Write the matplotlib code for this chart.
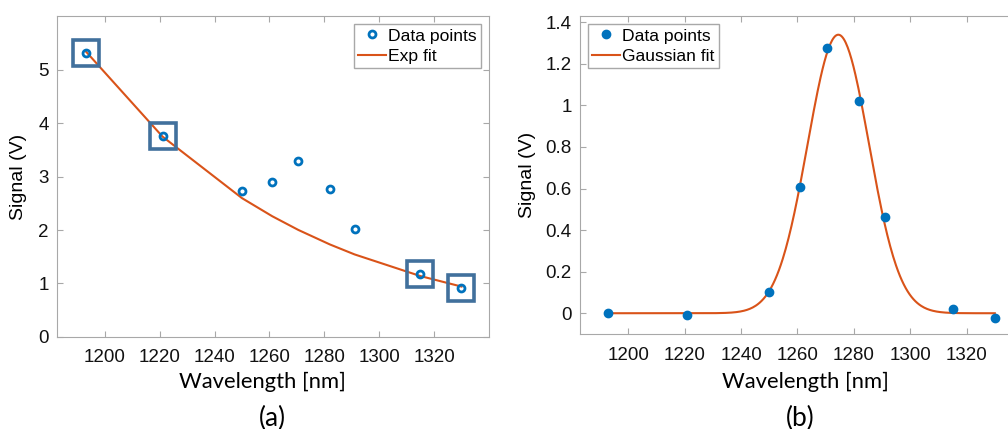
import numpy as np
import matplotlib
matplotlib.use("Agg")
import matplotlib.pyplot as plt

# wavelengths of the measured points [nm]
wavelength = [1193, 1221, 1250, 1261, 1270.5, 1282, 1291, 1315, 1330]

# (a) signal [V] and the points used for the exponential fit (boxed)
signal_a = [5.31, 3.76, 2.73, 2.89, 3.29, 2.76, 2.02, 1.17, 0.92]
boxed = [0, 1, 7, 8]

# (b) signal [V] and gaussian fit parameters
signal_b = [0.0, -0.007, 0.10, 0.605, 1.275, 1.02, 0.461, 0.022, -0.021]
gauss_amp = 1.34
gauss_mu = 1274.5
gauss_sigma = 10.9

blue = '#0072BD'
orange = '#D95319'
box_col = '#41709C'
spine_col = '#A8A8A8'
tick_font = 'Liberation Sans'
label_font = 'Lato'

x = np.array(wavelength)
ya = np.array(signal_a)
yb = np.array(signal_b)

# exp fit on the boxed points
k, c = np.polyfit(x[boxed], np.log(ya[boxed]), 1)
exp_fit = np.exp(c + k * x)

xg = np.linspace(x.min(), x.max(), 400)
gauss_fit = gauss_amp * np.exp(-(xg - gauss_mu) ** 2 / (2 * gauss_sigma ** 2))

fig = plt.figure(figsize=(10.08, 4.29), dpi=100)
ax1 = fig.add_axes([0.0565, 0.2145, 0.4285, 0.748])
ax2 = fig.add_axes([0.5754, 0.2214, 0.4395, 0.7413])


def style(ax):
    for s in ax.spines.values():
        s.set_color(spine_col)
    ax.tick_params(direction='in', top=True, right=True, length=4, color=spine_col,
                   labelsize=13.5, labelcolor='#111111')
    ax.tick_params(axis='x', pad=9)
    ax.tick_params(axis='y', pad=6)
    for lab in ax.get_xticklabels() + ax.get_yticklabels():
        lab.set_fontfamily(tick_font)
    ax.set_xlabel('Wavelength [nm]', fontsize=15.8, family=label_font)


def legend(ax, loc):
    leg = ax.legend(loc=loc, prop={'family': tick_font, 'size': 12.6},
                    frameon=True, fancybox=False, edgecolor=spine_col, framealpha=1,
                    handlelength=1.6, handletextpad=0.1, borderpad=0.25,
                    labelspacing=0.3, borderaxespad=0.45)
    leg.get_frame().set_linewidth(1)
    return leg


# (a)
ax1.plot(x, ya, 'o', mfc='none', mec=blue, mew=2, ms=5, label='Data points', zorder=3)
ax1.plot(x, exp_fit, '-', color=orange, lw=1.5, label='Exp fit', zorder=2)
ax1.plot(x[boxed], ya[boxed], 's', mfc='none', mec=box_col, mew=2.6, ms=19, zorder=4)
ax1.set_xlim(1182.5, 1340)
ax1.set_ylim(0, 6)
ax1.set_xticks(range(1200, 1321, 20))
ax1.set_yticks(range(0, 6))
style(ax1)
ax1.xaxis.set_label_coords((263 - 57) / 432, -0.108)
ax1.set_ylabel('Signal (V)', fontsize=14, family=tick_font, labelpad=8)
legend(ax1, 'upper right')

# (b)
ax2.plot(x, yb, 'o', color=blue, ms=6, label='Data points', zorder=3)
ax2.plot(xg, gauss_fit, '-', color=orange, lw=1.5, label='Gaussian fit', zorder=2)
ax2.set_xlim(1182.9, 1340)
ax2.set_ylim(-0.1, 1.43)
ax2.set_xticks(range(1200, 1321, 20))
ax2.set_yticks([0, 0.2, 0.4, 0.6, 0.8, 1, 1.2, 1.4])
ax2.set_yticklabels(['0', '0.2', '0.4', '0.6', '0.8', '1', '1.2', '1.4'])
style(ax2)
ax2.xaxis.set_label_coords((805 - 580) / 443, -0.12)
ax2.set_ylabel('Signal (V)', fontsize=14, family=tick_font, labelpad=7)
legend(ax2, 'upper left')

fig.text(272 / 1008, 1 - 418 / 429, '(a)', fontsize=19, family=label_font, ha='center', va='center')
fig.text(800 / 1008, 1 - 418 / 429, '(b)', fontsize=19, family=label_font, ha='center', va='center')

fig.savefig('out.png', dpi=100)
